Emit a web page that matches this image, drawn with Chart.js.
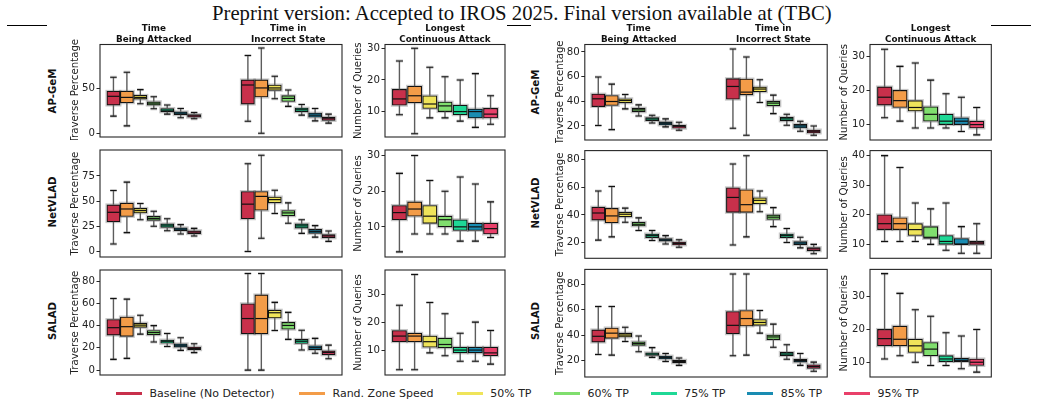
<!DOCTYPE html>
<html><head><meta charset="utf-8">
<script src="https://cdn.jsdelivr.net/npm/chart.js@4.4.1/dist/chart.umd.min.js"></script>
<style>
html,body{margin:0;padding:0;background:#fff}
body{width:1038px;height:407px;overflow:hidden;position:relative;font-family:'DejaVu Sans',sans-serif}
canvas{position:absolute}
.rule{position:absolute;height:1px;background:#000}
.rowlab{position:absolute;font-weight:bold;font-size:10.2px;color:#111;white-space:nowrap;transform:translate(-50%,-50%) rotate(-90deg)}
.legline{position:absolute;width:26px;height:2.8px}
.legtxt{position:absolute;font-size:11px;line-height:14px;color:#222;white-space:nowrap}
#title{position:absolute;font-family:'Liberation Serif',serif;line-height:1;white-space:nowrap;color:#111}
</style></head>
<body>
<div id="title"></div>
<script>
// ---------------- data ----------------
const methods = ['Baseline (No Detector)','Rand. Zone Speed','50% TP','60% TP','75% TP','85% TP','95% TP'];
const colors  = ['#C8304B','#F39C48','#EFE45A','#80DE6E','#1FD896','#1A8CB2','#E9406A'];
const models  = ['AP-GeM','NetVLAD','SALAD'];
const pctGroupLabels = [['Time','Being Attacked'],['Time in','Incorrect State']];
const queryGroupLabel = [['Longest','Continuous Attack']];
const pctTitle = 'Traverse Percentage';
const queryTitle = 'Number of Queries';
const pageTitle = 'Preprint version: Accepted to IROS 2025. Final version available at (TBC)';

// each box: [lower whisker, Q1, median, Q3, upper whisker], one row per method
const L_APGeM_attacked  = [[19.2,31.6,41.4,47,62.8],[8.3,34.2,40.2,47,68.4],[33,38.3,40.2,42.5,48.9],[27.4,31.6,33.8,35.3,41],[21.4,24,25.9,27.8,31.6],[17.3,20.7,22.6,24,27.8],[16.2,18,19.5,21,23.3]];
const L_APGeM_incorrect = [[13.5,32.7,54.1,59.8,87.2],[0,40.6,50.8,59.8,95.5],[38.7,48.1,50.8,54.1,63.9],[30.1,35.7,39.1,42.1,48.5],[20.3,24,26.3,28.2,32.3],[13.9,18,20.3,22.6,27.8],[11.3,14.3,16.2,18,21.4]];
const L_APGeM_longest   = [[9,12,14,17,26],[3,12.8,15,18,30],[8,11,12.4,15,24],[8,10,11.8,13,21],[7,9,10,12,20],[5,8,10,10.8,22],[6,8,9.2,11,15]];
const L_NetVLAD_attacked  = [[7.4,29.6,38.9,46.3,60.5],[18.7,34.8,42.2,48,68.9],[31.5,38.3,40.6,42.8,47.6],[25.1,30.9,32.8,34.8,39.9],[20.6,23.8,25.4,27.4,32.5],[17.4,20.6,22.2,23.5,26.7],[15.4,17.7,19.3,20.6,22.9]];
const L_NetVLAD_incorrect = [[0,32.5,47,59.5,87.2],[13.2,40.9,54.7,59.5,95.6],[37.7,48.3,51.5,54.1,60.8],[28,35.4,38.3,40.6,48.3],[18,23.2,25.4,27.4,31.5],[14.2,18,20,21.9,25.7],[10,13.5,15.4,16.7,20.3]];
const L_NetVLAD_longest   = [[3,12,14,16,25],[8,13,15,17,30],[8,11,13,16,23],[8,10,12,13,20],[6,9,10,12,24],[6,9,10,11,22],[7,8,9.5,11,17]];
const L_SALAD_attacked  = [[9.6,31.4,38.1,45.4,64.3],[10.5,30.3,39,47.7,63.7],[32.3,38.4,40.4,42.2,49.2],[25.3,31.7,33.7,35.5,39.9],[21.2,24.1,25.9,27,32.9],[17.7,20.7,22.4,23.6,29.1],[15.7,18.3,19.5,20.7,23.6]];
const L_SALAD_incorrect = [[0,32.6,46.3,59.6,86.7],[0,32.6,46.3,67.5,86.7],[35.5,46.8,51.5,53.8,60.8],[27.6,36.7,40.1,42.8,51.8],[18,23.9,25.9,27.6,35.8],[15.1,18.3,20.1,21.8,28.5],[10.2,13.7,15.7,17.2,22.4]];
const L_SALAD_longest   = [[3,13,15,17,26],[3,13,15,16,37],[9,11,13,15,27],[8,10.8,12,14.2,23],[6,9,10,11,16],[6,9,10,11,20],[5,8,9,11,17]];

const R_APGeM_attacked  = [[20.3,35.7,42,45.8,59.6],[17,36.6,39.8,44.7,53.9],[33.8,38.7,40.6,42,45.5],[28.1,31.4,33,34.4,37.1],[22.4,24.3,25.7,26.8,28.7],[19.2,20.8,22.2,23.3,25.7],[16.5,18.1,19.7,20.5,23]];
const R_APGeM_incorrect = [[18.1,41.7,52,58.3,82.4],[12.4,45.2,47.4,58,75.9],[39,47.7,49.9,51.5,57.4],[30,36.3,38.5,40.1,45],[20.5,24.1,25.7,27,29.5],[15.7,18.4,20,21.4,23.8],[12.4,14.3,15.7,16.7,20]];
const R_APGeM_longest   = [[12,15.7,18,21,32],[11,15,17,20,27],[9,14,15,17,28],[9,11,13,15.2,23],[9,10,11,13,19],[8,10,11,12,18],[7,9,10,11,15]];
const R_NetVLAD_attacked  = [[21.9,36.3,41.4,45.6,57.2],[24.2,34.4,39.3,44.7,60.5],[34.7,38.6,40.5,41.9,44.9],[28.8,32.1,33.3,34.7,37.9],[21.6,23.7,25.1,26.3,28.8],[19.1,21.2,22.1,23,25.1],[16.7,18.4,19.5,20.5,22.1]];
const R_NetVLAD_incorrect = [[18.4,41.9,52.6,59.5,76.7],[24.2,41.9,47.4,58.1,82.6],[42.3,48.1,50.5,52.3,57.2],[31.6,36.7,38.4,40,45.3],[20.2,23.7,25.1,26.3,30.2],[16.3,18.6,19.8,20.9,24],[12.1,14.2,15.6,16.5,18.8]];
const R_NetVLAD_longest   = [[11,15,17,20,40],[11,15,17,19,36],[11,13,15,17,24],[10,12,12.4,16,22],[8,10,11,13,24],[7,10,10,12,16],[7,10,10.5,11,17]];
const R_SALAD_attacked  = [[24.6,34.4,39,44.1,62.6],[24.1,37.4,41.5,45.6,62.6],[34.9,38.5,40,41.5,46.2],[26.7,31.8,33.3,34.6,39.2],[22.3,23.8,24.9,25.9,30],[19,21,22.3,23.3,25.4],[15.9,17.9,19,20,21.8]];
const R_SALAD_incorrect = [[23.6,41,47.7,58.7,88.5],[24.1,47.2,53.1,59.5,88.5],[41.5,47.7,50,52.3,59.5],[30.3,36.4,38.5,40,48.7],[20.8,23.6,24.9,26.2,32.3],[15.9,18.5,19.7,20.8,25.4],[11.3,13.6,15.1,16.4,18.5]];
const R_SALAD_longest   = [[11,15,17.2,20,37],[12,15,17,21,31],[10,13,15,17,26],[9,12,14,16,24],[9,10.2,11,12,19],[8,10.2,10.6,11.2,18],[7,9,10,11,20]];

// y tick labels per panel
const L_pctTicks = [[0,50],[0,25,50,75],[0,20,40,60,80]];
const L_qTicks   = [[10,20,30],[10,20,30],[10,20,30]];
const R_pctTicks = [[20,40,60,80],[20,40,60,80],[20,40,60,80]];
const R_qTicks   = [[10,20,30],[10,20,30,40],[10,20,30]];

// ---------------- layout / style ----------------
const FS = 10.2;
const layout = {
  L:{ax:[100,342], bx:[385,505], rows:[[44.5,137],[147,257],[267,375]], labelX:52, titleA:75, titleB:358.3},
  R:{ax:[584.8,827.2], bx:[870,991.3], rows:[[44.5,140],[147.3,258.3],[265.7,377]], labelX:535.3, titleA:560.3, titleB:844.5}
};
const limits = {
  L:{pct:[[-4.2,99.5],[-5.5,100.8],[-4.4,89.9]], q:[[1.97,31.2],[1.55,31.55],[1.1,38.6]]},
  R:{pct:[[8.6,86],[8.8,86.3],[6.7,92.1]], q:[[5.5,33.4],[5.3,41.7],[5.5,38.3]]}
};
const figData = {
  L:[[L_APGeM_attacked,L_APGeM_incorrect,L_APGeM_longest],[L_NetVLAD_attacked,L_NetVLAD_incorrect,L_NetVLAD_longest],[L_SALAD_attacked,L_SALAD_incorrect,L_SALAD_longest]],
  R:[[R_APGeM_attacked,R_APGeM_incorrect,R_APGeM_longest],[R_NetVLAD_attacked,R_NetVLAD_incorrect,R_NetVLAD_longest],[R_SALAD_attacked,R_SALAD_incorrect,R_SALAD_longest]]
};
const figTicks = {L:{pct:L_pctTicks,q:L_qTicks}, R:{pct:R_pctTicks,q:R_qTicks}};

Chart.defaults.font.family = "'DejaVu Sans', sans-serif";

const boxPlugin = {
  id:'boxes',
  beforeDatasetsDraw(chart){
    const ctx = chart.ctx, ys = chart.scales.y;
    ctx.save();
    ctx.strokeStyle = 'rgba(0,0,0,0.22)';
    ctx.lineWidth = 3;
    chart.data.datasets.forEach((ds,di)=>{
      chart.getDatasetMeta(di).data.forEach((el,i)=>{
        const p = el.getProps(['x','y','base','width'], true);
        const st = ds.stat[i];
        ctx.strokeRect(p.x-p.width/2, Math.min(p.y,p.base), p.width, Math.abs(p.base-p.y));
        const cw = p.width*0.5;
        [st[0],st[4]].forEach(v=>{
          const py = ys.getPixelForValue(v);
          ctx.beginPath(); ctx.moveTo(p.x-cw/2,py); ctx.lineTo(p.x+cw/2,py); ctx.stroke();
        });
      });
    });
    ctx.restore();
  },
  afterDatasetsDraw(chart){
    const ctx = chart.ctx, ys = chart.scales.y;
    ctx.save();
    chart.data.datasets.forEach((ds,di)=>{
      chart.getDatasetMeta(di).data.forEach((el,i)=>{
        const p = el.getProps(['x','y','base','width'], true);
        const st = ds.stat[i];
        const yl = ys.getPixelForValue(st[0]), yq1 = ys.getPixelForValue(st[1]),
              ym = ys.getPixelForValue(st[2]), yq3 = ys.getPixelForValue(st[3]),
              yh = ys.getPixelForValue(st[4]);
        ctx.strokeStyle = '#5c5c5c'; ctx.lineWidth = 1.4;
        ctx.beginPath(); ctx.moveTo(p.x,yq1); ctx.lineTo(p.x,yl); ctx.moveTo(p.x,yq3); ctx.lineTo(p.x,yh); ctx.stroke();
        const cw = p.width*0.5;
        ctx.strokeStyle = '#111'; ctx.lineWidth = 1.1;
        ctx.beginPath(); ctx.moveTo(p.x-cw/2,yl); ctx.lineTo(p.x+cw/2,yl); ctx.moveTo(p.x-cw/2,yh); ctx.lineTo(p.x+cw/2,yh); ctx.stroke();
        ctx.lineWidth = 1.2;
        ctx.beginPath(); ctx.moveTo(p.x-p.width/2+0.5,ym); ctx.lineTo(p.x+p.width/2-0.5,ym); ctx.stroke();
      });
    });
    const a = chart.chartArea;
    ctx.strokeStyle = '#262626'; ctx.lineWidth = 1.1;
    ctx.strokeRect(a.left, a.top, a.right-a.left, a.bottom-a.top);
    ctx.restore();
  }
};

function buildPanel(fk, row, kind){
  const L = layout[fk];
  const [x0,x1] = kind==='A' ? L.ax : L.bx;
  const [y0,y1] = L.rows[row];
  const tCenter = kind==='A' ? L.titleA : L.titleB;
  const lh = FS*1.2;
  const cl = Math.round(tCenter - lh/2);
  const YW = x0 - cl;
  const W = Math.ceil(x1 - cl) + 3;
  const ct = row===0 ? Math.round(y0 - 26) : Math.floor(y0) - 3;
  const H = Math.ceil(y1 - ct) + 3;
  const XH = y0 - ct;
  const padRight = W - (x1 - cl);
  const padBottom = H - (y1 - ct);

  const d = figData[fk][row];
  const isA = kind==='A';
  const groups = isA ? [d[0], d[1]] : [d[2]];
  const xMin = isA ? -0.4 : -0.95, xMax = isA ? 1.4 : 6.95;
  const pos = (g,k) => isA ? g + (k-3)*0.1 : k;
  const boxW = isA ? 0.097 : 0.93;                 // box width in x units
  const thick = (x1 - x0) / (xMax - xMin) * boxW;  // pixels
  const xTickVals = isA ? [0,1] : [3];
  const xTickLabels = isA ? pctGroupLabels : queryGroupLabel;
  const yTicks = isA ? figTicks[fk].pct[row] : figTicks[fk].q[row];
  const yLim = isA ? limits[fk].pct[row] : limits[fk].q[row];

  const cv = document.createElement('canvas');
  cv.width = W; cv.height = H;
  cv.style.left = cl+'px'; cv.style.top = ct+'px';
  cv.style.width = W+'px'; cv.style.height = H+'px';
  document.body.appendChild(cv);

  const datasets = methods.map((m,k)=>({
    label:m,
    data: groups.map((g,gi)=>({x:pos(gi,k), y:[g[k][1], g[k][3]]})),
    stat: groups.map(g=>g[k]),
    backgroundColor: colors[k],
    borderColor:'#111', borderWidth:1.1, borderSkipped:false,
    grouped:false, barThickness: thick
  }));

  new Chart(cv, {
    type:'bar',
    data:{datasets},
    options:{
      responsive:false, animation:false, events:[],
      layout:{padding:{top: row===0 ? 0 : XH, bottom:padBottom, right:padRight, left:0}},
      plugins:{legend:{display:false}, tooltip:{enabled:false}},
      scales:{
        x:{
          type:'linear', position:'top', display: row===0, min:xMin, max:xMax, offset:false,
          afterBuildTicks: s => { s.ticks = xTickVals.map(v=>({value:v})); },
          ticks:{ autoSkip:false, maxRotation:0, padding:0, color:'#111',
                  font:{size:8.8, weight:'bold', lineHeight:1.2},
                  callback:(v,i)=> xTickLabels[i] },
          grid:{display:false, drawTicks:false, offset:false}, border:{display:false},
          afterFit: s => { s.height = XH; s.paddingLeft = 0; s.paddingRight = 0; }
        },
        y:{
          min:yLim[0], max:yLim[1],
          afterBuildTicks: s => { s.ticks = yTicks.map(v=>({value:v})); },
          ticks:{ font:{size:FS}, color:'#222', padding:1.5 },
          grid:{ display:true, drawOnChartArea:false, drawTicks:true, tickLength:3.5, color:'#262626' },
          border:{display:false},
          title:{ display:true, text: isA ? pctTitle : queryTitle, font:{size:FS}, color:'#222', padding:{top:0,bottom:0} },
          afterFit: s => { s.width = YW; s.paddingTop = 0; s.paddingBottom = 0; }
        }
      }
    },
    plugins:[boxPlugin]
  });
}

['L','R'].forEach(fk=>{
  for (let r=0;r<3;r++){ buildPanel(fk,r,'A'); buildPanel(fk,r,'B'); }
  const L = layout[fk];
  models.forEach((m,r)=>{
    const el = document.createElement('div');
    el.className='rowlab'; el.textContent=m;
    el.style.left = L.labelX+'px';
    el.style.top = ((L.rows[r][0]+L.rows[r][1])/2)+'px';
    document.body.appendChild(el);
  });
});

// legend
const legendX = [116,299,456.7,554,650.7,747.3,844];
methods.forEach((m,k)=>{
  const ln = document.createElement('div');
  ln.className='legline'; ln.style.background=colors[k];
  ln.style.left = legendX[k]+'px'; ln.style.top = (393.3-1.4)+'px';
  document.body.appendChild(ln);
  const tx = document.createElement('div');
  tx.className='legtxt'; tx.textContent=m;
  tx.style.left = (legendX[k]+33.5)+'px'; tx.style.top = (393.6-7)+'px';
  document.body.appendChild(tx);
});

// header rules
[[7,47,25],[507,531,25],[991,1031,25]].forEach(([a,b,y])=>{
  const r = document.createElement('div'); r.className='rule';
  r.style.left=a+'px'; r.style.width=(b-a)+'px'; r.style.top=y+'px';
  document.body.appendChild(r);
});

// page title
(function(){
  const t = document.getElementById('title');
  t.textContent = pageTitle;
  const c = document.createElement('canvas').getContext('2d');
  c.font = "100px 'Liberation Serif'";
  const w = c.measureText(pageTitle).width;
  const F = 621/w*100;
  t.style.fontSize = F+'px';
  t.style.left = '212px';
  t.style.top = (20.7 - 0.8375*F)+'px';
})();
</script>
</body></html>
